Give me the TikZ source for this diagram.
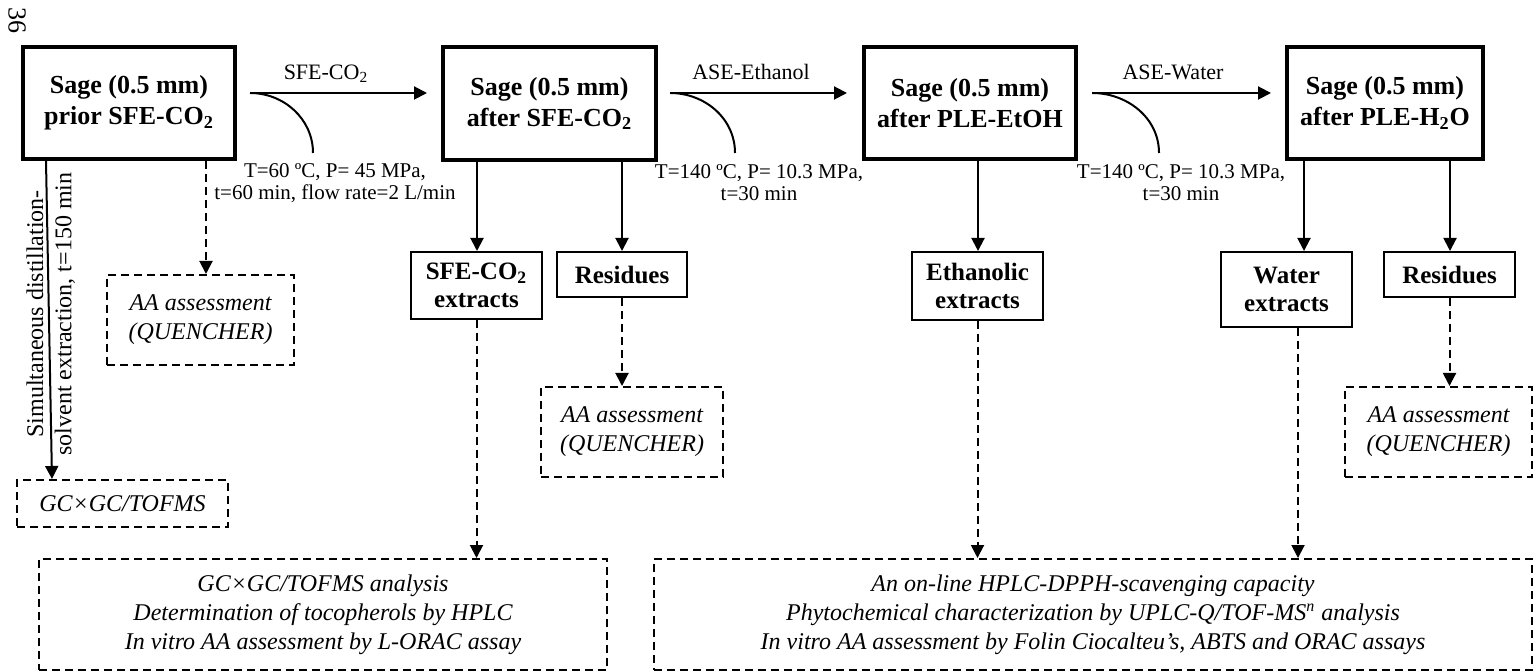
\documentclass[tikz,border=0pt]{standalone}
\usepackage{fontspec}
\setmainfont{Liberation Serif}
\usetikzlibrary{arrows.meta}
\begin{document}
\begin{tikzpicture}[x=0.5pt,y=-0.5pt,
  mainbox/.style={draw,line width=2pt,align=center,inner sep=0pt,font=\bfseries\fontsize{13}{15.5}\selectfont},
  subbox/.style={draw,line width=1pt,align=center,inner sep=0pt,font=\bfseries\fontsize{12.5}{14}\selectfont},
  dbox/.style={draw,line width=1pt,dash pattern=on 4pt off 2.5pt,align=center,inner sep=0pt,font=\itshape\fontsize{12}{14.5}\selectfont},
  arr/.style={line width=1pt,-{Triangle[length=6.5pt,width=6.5pt]}},
  darr/.style={arr,dash pattern=on 4pt off 2.5pt},
  lbl/.style={inner sep=0pt,font=\fontsize{11}{13}\selectfont},
  parm/.style={inner sep=0pt,align=center,font=\fontsize{10.5}{11}\selectfont},
  vtext/.style={inner sep=0pt,rotate=90,font=\fontsize{12}{14}\selectfont}]
\useasboundingbox (0,0) rectangle (1534,672);
% page number
\node[inner sep=0pt,rotate=-90,font=\fontsize{13}{15}\selectfont] (pg) at (17,21) {36};
% main boxes
\node[mainbox,minimum width=106pt,minimum height=56pt] (b1) at (129,103) {Sage (0.5 mm)\\prior SFE-CO\textsubscript{2}};
\node[mainbox,minimum width=106.5pt,minimum height=56.5pt] (b2) at (549.5,103.5) {Sage (0.5 mm)\\after SFE-CO\textsubscript{2}};
\node[mainbox,minimum width=106pt,minimum height=56pt] (b3) at (970,103) {Sage (0.5 mm)\\after PLE-EtOH};
\node[mainbox,minimum width=98pt,minimum height=56pt] (b4) at (1385,103) {Sage (0.5 mm)\\after PLE-H\textsubscript{2}O};
% sub boxes
\node[subbox,minimum width=65.5pt,minimum height=33.5pt] (x1) at (476.5,285.5) {SFE-CO\textsubscript{2}\\extracts};
\node[subbox,minimum width=65pt,minimum height=22.5pt] (r1) at (622,274.5) {Residues};
\node[subbox,minimum width=65.5pt,minimum height=34pt] (x2) at (977.5,286) {Ethanolic\\extracts};
\node[subbox,minimum width=65.5pt,minimum height=37.5pt] (x3) at (1286.5,289.5) {Water\\extracts};
\node[subbox,minimum width=65.5pt,minimum height=22.5pt] (r2) at (1449.5,274.5) {Residues};
% dashed boxes
\node[dbox,minimum width=93.5pt,minimum height=45pt] (a1) at (200.5,320) {AA assessment\\(QUENCHER)};
\node[dbox,minimum width=91pt,minimum height=45pt] (a2) at (632,432) {AA assessment\\(QUENCHER)};
\node[dbox,minimum width=93.5pt,minimum height=45pt] (a3) at (1438.5,432) {AA assessment\\(QUENCHER)};
\node[dbox,minimum width=105.5pt,minimum height=23.5pt] (gc) at (122.5,503.5) {GC×GC/TOFMS};
\node[dbox,minimum width=284pt,minimum height=55.5pt] (g1) at (323,614.5) {GC×GC/TOFMS analysis\\Determination of tocopherols by HPLC\\In vitro AA assessment by L-ORAC assay};
\node[dbox,minimum width=439pt,minimum height=55.5pt] (g2) at (1093,614.5) {An on-line HPLC-DPPH-scavenging capacity\\Phytochemical characterization by UPLC-Q/TOF-MS\textsuperscript{n} analysis\\In vitro AA assessment by Folin Ciocalteu’s, ABTS and ORAC assays};
% process arrows
\coordinate (s1) at (250,93); \coordinate (e1) at (427,93); \coordinate (c1) at (313,153);
\coordinate (s2) at (670,93); \coordinate (e2) at (847,93); \coordinate (c2) at (735,153);
\coordinate (s3) at (1092,93); \coordinate (e3) at (1271,93); \coordinate (c3) at (1159,153);
\draw[arr] (s1) -- (e1);
\draw[line width=1pt] (s1) to[out=0,in=90] (c1);
\draw[arr] (s2) -- (e2);
\draw[line width=1pt] (s2) to[out=0,in=90] (c2);
\draw[arr] (s3) -- (e3);
\draw[line width=1pt] (s3) to[out=0,in=90] (c3);
\node[lbl] (l1) at (326,74) {SFE-CO\textsubscript{2}};
\node[lbl] (l2) at (751,72) {ASE-Ethanol};
\node[lbl] (l3) at (1173,72) {ASE-Water};
\node[parm] (p1) at (335,183) {T=60 ºC, P= 45 MPa,\\t=60 min, flow rate=2 L/min};
\node[parm] (p2) at (759,183) {T=140 ºC, P= 10.3 MPa,\\t=30 min};
\node[parm] (p3) at (1181,183) {T=140 ºC, P= 10.3 MPa,\\t=30 min};
% vertical text
\node[vtext] (v1) at (35,314) {Simultaneous distillation-};
\node[vtext] (v2) at (65,314) {solvent extraction, t=150 min};
% solid connectors
\draw[arr] ([xshift=-41.5pt]b1.south) -- ([xshift=-35.25pt]gc.north);
\draw[arr] ([xshift=-36.25pt]b2.south) -- ([xshift=-36.25pt]b2.south |- x1.north);
\draw[arr] ([xshift=36.25pt]b2.south) -- ([xshift=36.25pt]b2.south |- r1.north);
\draw[arr] ([xshift=4pt]b3.south) -- ([xshift=4pt]b3.south |- x2.north);
\draw[arr] ([xshift=-40.5pt]b4.south) -- ([xshift=-40.5pt]b4.south |- x3.north);
\draw[arr] ([xshift=32.5pt]b4.south) -- ([xshift=32.5pt]b4.south |- r2.north);
% dashed connectors
\draw[darr] ([xshift=38.5pt]b1.south) -- ([xshift=38.5pt]b1.south |- a1.north);
\draw[darr] (x1.south) -- (x1.south |- g1.north);
\draw[darr] (r1.south) -- (r1.south |- a2.north);
\draw[darr] (x2.south) -- (x2.south |- g2.north);
\draw[darr] ([xshift=5.75pt]x3.south) -- ([xshift=5.75pt]x3.south |- g2.north);
\draw[darr] (r2.south) -- (r2.south |- a3.north);
\end{tikzpicture}
\end{document}
